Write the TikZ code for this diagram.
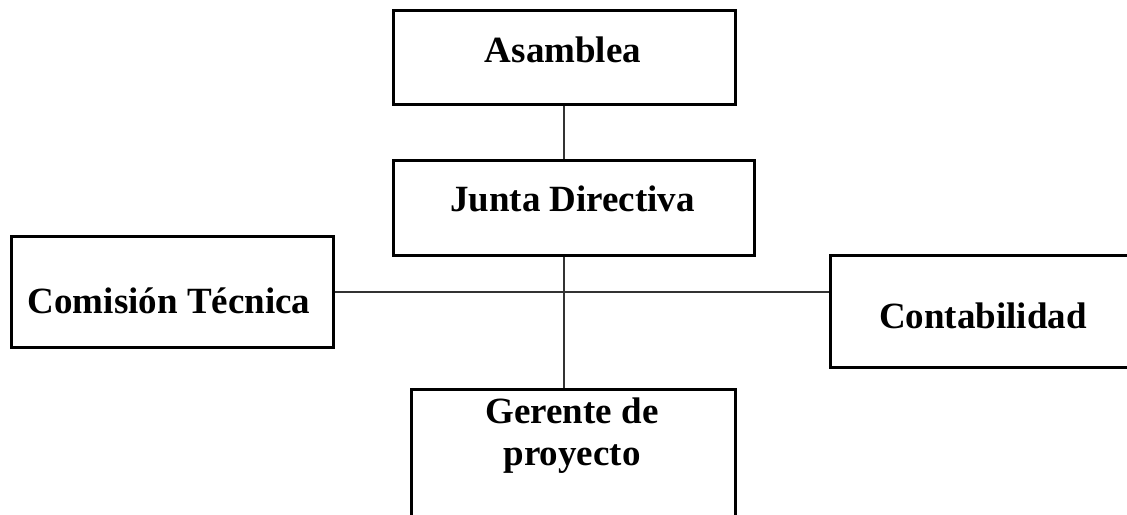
\documentclass[tikz,border=0pt]{standalone}
\usepackage{fontspec}
\setmainfont{Liberation Serif}
\begin{document}
\begin{tikzpicture}[x=1pt,y=-1pt,
  orgbox/.style={draw=black, line width=3pt, inner sep=0pt},
  lbl/.style={font=\bfseries\fontsize{37}{42}\selectfont, inner sep=0pt, anchor=base, align=center},
  conn/.style={draw=black!80, line width=1.6pt}]
\clip (0,0) rectangle (1127,514);
\fill[white] (0,0) rectangle (1127,514);
% boxes
\node[orgbox, minimum width=342pt, minimum height=93.5pt] (asamblea) at (564,57.25) {};
\node[orgbox, minimum width=361pt, minimum height=94.5pt] (junta) at (573.5,207.75) {};
\node[orgbox, minimum width=321.5pt, minimum height=110.5pt] (comision) at (172.25,291.75) {};
\node[orgbox, minimum width=310pt, minimum height=111.5pt] (contab) at (985,311.25) {};
\node[orgbox, minimum width=324pt, minimum height=141pt] (gerente) at (573,459.5) {};
% labels
\node[lbl] (tA) at (563,62) {Asamblea};
\node[lbl] (tJ) at (572.5,211) {Junta Directiva};
\node[lbl] (tC) at (169,313) {Comisión Técnica};
\node[lbl] (tK) at (983,328) {Contabilidad};
\node[lbl] (tG) at (572,465) {Gerente de\\proyecto};
% connectors
\draw[conn] (asamblea.south) -- (junta.north -| asamblea.south);
\draw[conn] (junta.south -| asamblea.south) -- (gerente.north -| asamblea.south);
\draw[conn] (comision.east) -- (comision.east -| contab.west);
\end{tikzpicture}
\end{document}
